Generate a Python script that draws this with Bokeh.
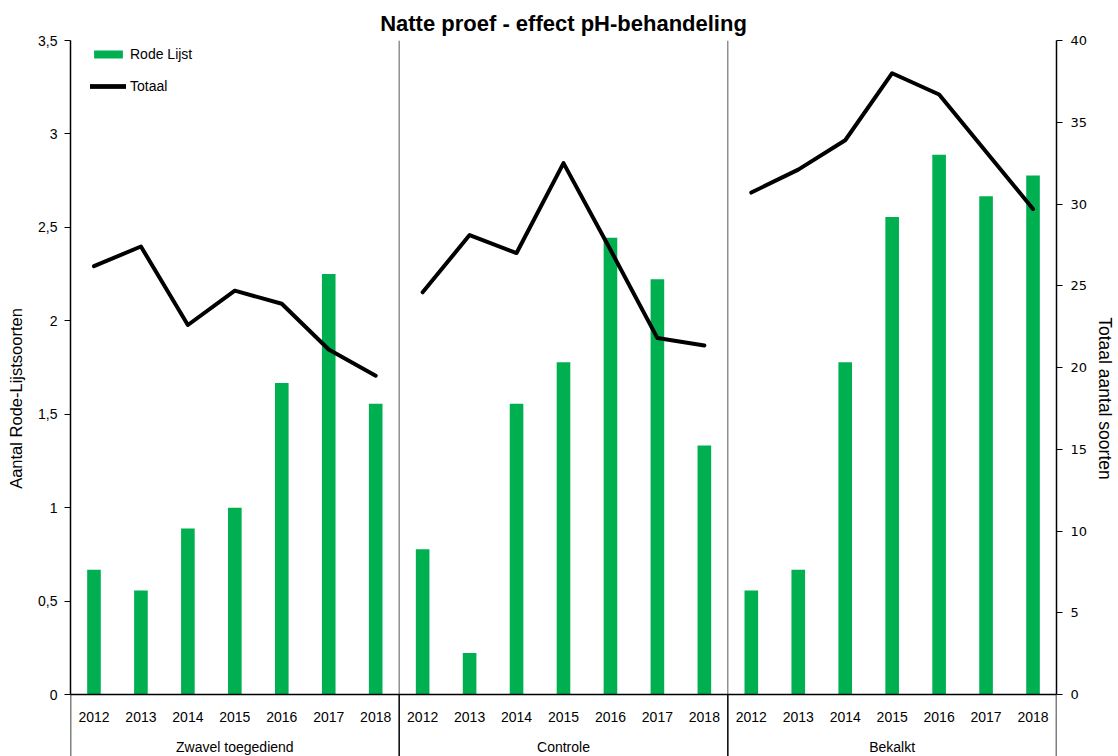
from bokeh.plotting import figure
from bokeh.models import (FactorRange, Range1d, LinearAxis, FixedTicker, ColumnDataSource,
                          Span, Legend, LegendItem, CustomJSTickFormatter)
from bokeh.core.properties import value
from bokeh.embed import file_html
from bokeh.resources import INLINE

# ---------------- data ----------------
title = "Natte proef - effect pH-behandeling"
groups = ["Zwavel toegediend", "Controle", "Bekalkt"]
years = ["2012", "2013", "2014", "2015", "2016", "2017", "2018"]

rode_zwavel = [0.667, 0.556, 0.889, 1.0, 1.667, 2.25, 1.556]
rode_controle = [0.778, 0.222, 1.556, 1.778, 2.444, 2.222, 1.333]
rode_bekalkt = [0.556, 0.667, 1.778, 2.556, 2.889, 2.667, 2.778]

totaal_zwavel = [26.2, 27.4, 22.6, 24.7, 23.9, 21.1, 19.5]
totaal_controle = [24.6, 28.1, 27.0, 32.5, 27.2, 21.8, 21.35]
totaal_bekalkt = [30.7, 32.1, 33.9, 38.0, 36.7, 33.2, 29.7]

left_ticks = [0, 0.5, 1, 1.5, 2, 2.5, 3, 3.5]
right_ticks = [0, 5, 10, 15, 20, 25, 30, 35, 40]

rode = [rode_zwavel, rode_controle, rode_bekalkt]
totaal = [totaal_zwavel, totaal_controle, totaal_bekalkt]

# ---------------- layout ----------------
W, H = 1118, 756
ML, MR, MT, MB = 70, 60, 40, 0
frame_h = H - MT - MB
zero_px = 654            # pixels from frame top to the zero line
left_max, right_max = left_ticks[-1], right_ticks[-1]
left_start = -(frame_h - zero_px) * left_max / zero_px
right_start = -(frame_h - zero_px) * right_max / zero_px

FONT = "Liberation Sans"
GREEN = "#00B050"

factors = [(g, y) for g in groups for y in years]
xr = FactorRange(factors=factors, factor_padding=0, group_padding=0,
                 subgroup_padding=0, range_padding=0)

p = figure(width=W, height=H, x_range=xr, y_range=Range1d(left_start, left_max),
           output_backend="svg", toolbar_location=None, x_axis_location=None,
           min_border_left=ML, min_border_right=MR, min_border_top=MT,
           min_border_bottom=MB, title=title)
p.extra_y_ranges = {"right": Range1d(right_start, right_max)}
p.outline_line_color = None
p.xgrid.visible = False
p.ygrid.visible = False
p.background_fill_color = "white"

p.title.align = "center"
p.title.text_font = FONT
p.title.text_font_size = "22px"
p.title.text_font_style = "bold"
p.title.text_color = "black"
p.title.standoff = 9

# left axis
ya = p.yaxis[0]
ya.ticker = FixedTicker(ticks=left_ticks)
ya.formatter = CustomJSTickFormatter(code="return String(tick).replace('.', ',');")
ya.bounds = (0, left_max)
ya.axis_line_width = 1.5
ya.axis_line_color = "black"
ya.major_tick_out = 6
ya.major_tick_in = 0
ya.major_tick_line_width = 1.2
ya.minor_tick_line_color = None
ya.major_label_text_font = FONT
ya.major_label_text_font_size = "14px"
ya.major_label_text_color = "black"
ya.major_label_standoff = 7
ya.axis_label = "Aantal Rode-Lijstsoorten"
ya.axis_label_text_font = FONT
ya.axis_label_text_font_size = "16.5px"
ya.axis_label_text_font_style = "normal"
ya.axis_label_text_color = "black"
ya.axis_label_standoff = 10

# right axis
ra = LinearAxis(y_range_name="right", ticker=FixedTicker(ticks=right_ticks), bounds=(0, right_max))
ra.axis_line_width = 1.5
ra.axis_line_color = "black"
ra.major_tick_out = 6
ra.major_tick_in = 0
ra.major_tick_line_width = 1.2
ra.minor_tick_line_color = None
ra.major_label_text_font = "DejaVu Sans"
ra.major_label_text_font_size = "13px"
ra.major_label_text_color = "black"
ra.major_label_standoff = 8
ra.axis_label = "Totaal aantal soorten"
ra.axis_label_text_font = FONT
ra.axis_label_text_font_size = "17.5px"
ra.axis_label_text_font_style = "normal"
ra.axis_label_text_color = "black"
ra.axis_label_standoff = 5
p.add_layout(ra, "right")

# separators between groups inside plot
inner_x = [(g, years[0], -0.5) for g in groups[1:]]
p.segment(x0=inner_x, y0=[0] * len(inner_x), x1=inner_x, y1=[left_max] * len(inner_x),
          line_color="#595959", line_width=1)

# group boundary lines below the axis
outer_x = [(g, years[0], -0.5) for g in groups] + [(groups[-1], years[-1], 0.5)]
p.segment(x0=outer_x, y0=[0] * len(outer_x), x1=outer_x, y1=[left_start] * len(outer_x),
          line_color="black", line_width=1.5)

# category axis line
p.add_layout(Span(location=0, dimension="width", line_color="black", line_width=1.5))

# bars
bar_src = ColumnDataSource(dict(x=factors, top=[v for r in rode for v in r]))
bars = p.vbar(x="x", top="top", bottom=0, width=0.29, source=bar_src,
              fill_color=GREEN, line_color=None)

# lines (one per treatment)
line_rs = []
for g, t in zip(groups, totaal):
    src = ColumnDataSource(dict(x=[(g, y) for y in years], y=t))
    r = p.line(x="x", y="y", source=src, y_range_name="right", line_color="black",
               line_width=4, line_join="round", line_cap="round")
    line_rs.append(r)

# x labels
lab_src = ColumnDataSource(dict(x=factors, y=[0] * len(factors), t=[y for g in groups for y in years]))
p.text(x="x", y="y", text="t", source=lab_src, y_offset=22, text_align="center",
       text_baseline="middle", text_font=value(FONT), text_font_size="14px", text_color="black")
grp_src = ColumnDataSource(dict(x=[(g, years[3]) for g in groups], y=[0] * len(groups), t=groups))
p.text(x="x", y="y", text="t", source=grp_src, y_offset=52, text_align="center",
       text_baseline="middle", text_font=value(FONT), text_font_size="14px", text_color="black")

legend = Legend(items=[LegendItem(label="Rode Lijst", renderers=[bars]),
                       LegendItem(label="Totaal", renderers=line_rs)],
                location=(20, frame_h - 56), padding=0, margin=0, spacing=12,
                glyph_width=36, glyph_height=10, label_height=20, label_standoff=4,
                border_line_color=None, background_fill_alpha=0,
                label_text_font=FONT, label_text_font_size="14px", label_text_color="black")
p.add_layout(legend)

open("out.html", "w").write(file_html(p, INLINE))
